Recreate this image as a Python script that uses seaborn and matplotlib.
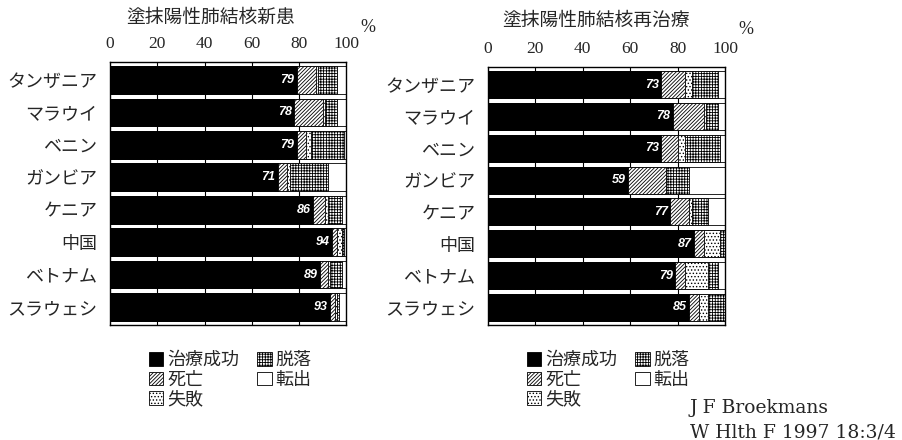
import pandas as pd
import matplotlib.pyplot as plt
import seaborn as sns
from matplotlib.patches import Patch

countries = ['タンザニア', 'マラウイ', 'ベニン', 'ガンビア', 'ケニア', '中国', 'ベトナム', 'スラウェシ']
segments = ['治療成功', '死亡', '失敗', '脱落', '転出']

# 塗抹陽性肺結核新患 (%)
new_success = [79, 78, 79, 71, 86, 94, 89, 93]
new_death = [8, 12, 4, 4, 5, 2, 3, 2]
new_fail = [1, 1, 2, 1, 1, 2, 1, 1]
new_drop = [8, 5, 14, 16, 6, 1, 5, 1]
new_transfer = [4, 4, 1, 8, 2, 1, 2, 3]

# 塗抹陽性肺結核再治療 (%)
re_success = [73, 78, 73, 59, 77, 87, 79, 85]
re_death = [10, 13, 7, 16, 8, 4, 4, 4]
re_fail = [3, 1, 3, 0, 1, 7, 10, 4]
re_drop = [11, 5, 15, 10, 7, 2, 4, 7]
re_transfer = [3, 3, 2, 15, 7, 0, 3, 0]

seg_style = {
	'治療成功': dict(color='black', hatch=None),
	'死亡': dict(color='white', hatch='/////////'),
	'失敗': dict(color='white', hatch='.....'),
	'脱落': dict(color='white', hatch='++++++'),
	'転出': dict(color='white', hatch=None),
}

sns.set_style('white')
plt.rcParams['font.family'] = ['Noto Sans CJK JP', 'DejaVu Sans']
plt.rcParams['hatch.linewidth'] = 0.6
plt.rcParams['hatch.color'] = 'black'


def draw_panel(ax, values):
	df = pd.DataFrame(dict(zip(segments, values)))
	df['国'] = countries
	cum = df[segments].cumsum(axis=1)
	# draw from the widest cumulative bar down so each layer covers the next
	for seg in reversed(segments):
		st = seg_style[seg]
		sns.barplot(
			x=cum[seg], y=df['国'], orient='h', ax=ax,
			color=st['color'], saturation=1, hatch=st['hatch'],
			edgecolor='black', linewidth=0.6, width=0.85,
			errorbar=None, zorder=2,
		)
	for i, s in enumerate(df['治療成功']):
		ax.text(s - 1, i, str(s), color='white', ha='right', va='center',
				fontsize=9, fontweight='bold', fontstyle='italic',
				family='Liberation Sans', zorder=5)
	ax.set_xlim(0, 100)
	ax.set_ylim(len(countries) - 0.45, -0.55)
	ax.set_xticks([0, 20, 40, 60, 80, 100])
	ax.set_xticklabels(['0', '20', '40', '60', '80', '100'], family='Liberation Serif', fontsize=12.5)
	ax.tick_params(axis='x', top=True, bottom=False, labeltop=True, labelbottom=False, length=0, pad=7)
	ax.tick_params(axis='y', length=0, pad=9, labelsize=13)
	ax.set_xlabel('')
	ax.set_ylabel('')
	ax.set_axisbelow(True)
	for x in [20, 40, 60, 80]:
		ax.axvline(x, color='black', lw=0.8, zorder=0)
	for sp in ax.spines.values():
		sp.set_visible(True)
		sp.set_color('black')
		sp.set_linewidth(1)


fig = plt.figure(figsize=(9.03, 4.4), dpi=100)
ax1 = fig.add_axes([110 / 903, 1 - 325 / 440, 236.5 / 903, 263 / 440])
ax2 = fig.add_axes([488 / 903, 1 - 325 / 440, 237 / 903, 258 / 440])

draw_panel(ax1, [new_success, new_death, new_fail, new_drop, new_transfer])
draw_panel(ax2, [re_success, re_death, re_fail, re_drop, re_transfer])

fig.text(211 / 903, 1 - 17 / 440, '塗抹陽性肺結核新患', ha='center', va='center', fontsize=13.5)
fig.text(596 / 903, 1 - 20 / 440, '塗抹陽性肺結核再治療', ha='center', va='center', fontsize=13.5)
fig.text(368 / 903, 1 - 27 / 440, '%', ha='center', va='center', fontsize=13, family='Liberation Serif')
fig.text(746 / 903, 1 - 30 / 440, '%', ha='center', va='center', fontsize=13, family='Liberation Serif')

handles = [
	Patch(facecolor=seg_style[s]['color'], hatch=seg_style[s]['hatch'], edgecolor='black', linewidth=0.6, label=s)
	for s in segments
]
for x0 in [140, 518]:
	fig.legend(
		handles=handles, loc='upper left', bbox_to_anchor=(x0 / 903, 1 - 342 / 440),
		ncol=2, frameon=False, fontsize=13, handlelength=0.8, handleheight=0.8,
		handletextpad=0.2, columnspacing=1.0, labelspacing=0.1, borderpad=0,
	)

fig.text(690 / 903, 1 - 408 / 440, 'J F Broekmans', ha='left', va='center', fontsize=13.5, family='DejaVu Serif')
fig.text(690 / 903, 1 - 432 / 440, 'W Hlth F 1997 18:3/4', ha='left', va='center', fontsize=13.5, family='DejaVu Serif')

fig.savefig('out.png', dpi=100)
